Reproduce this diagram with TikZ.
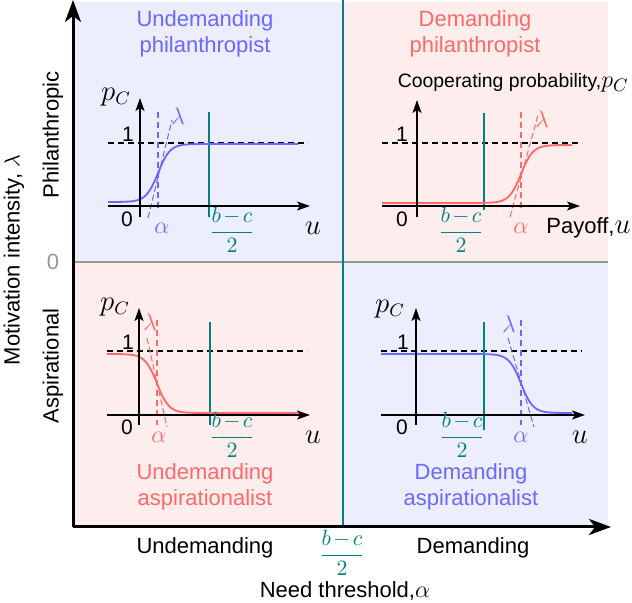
\documentclass[tikz,border=0pt]{standalone}
\usepackage[no-math]{fontspec}
\setmainfont{Liberation Sans}
\usepackage{amsmath}
\usetikzlibrary{arrows.meta}
\definecolor{bgblue}{RGB}{236,237,253}
\definecolor{bgpink}{RGB}{253,237,237}
\definecolor{cblue}{RGB}{105,105,255}
\definecolor{cpink}{RGB}{255,105,105}
\definecolor{tealc}{RGB}{0,128,128}
\definecolor{grayc}{RGB}{150,150,150}
\newcommand{\bcfrac}{$\medmuskip=2mu\dfrac{b-c}{2}$}
\tikzset{
  lbl/.style={font=\fontsize{11}{13}\selectfont, inner sep=0pt},
  tick/.style={font=\fontsize{10.5}{12}\selectfont, inner sep=0pt},
  mlbl/.style={font=\fontsize{12.5}{14}\selectfont, inner sep=0pt},
  plbl/.style={font=\fontsize{13.5}{15}\selectfont, inner sep=0pt},
  frc/.style={font=\fontsize{11}{13}\selectfont, inner sep=0pt, text=tealc},
  mainax/.style={line width=1.5pt, -{Stealth[length=11pt,width=8pt,inset=3pt]}},
  subax/.style={line width=0.85pt, -{Stealth[length=6.5pt,width=4.5pt,inset=1.5pt]}},
  onedash/.style={line width=0.6pt, dash pattern=on 3pt off 2pt},
  alphadash/.style={line width=0.6pt, dash pattern=on 3pt off 2pt},
  tanline/.style={line width=0.5pt, dash pattern=on 3pt off 1.5pt},
  curvel/.style={line width=0.9pt},
  tealsub/.style={tealc, line width=0.9pt},
}
\begin{document}
\begin{tikzpicture}[x=0.5pt,y=-0.5pt]
\useasboundingbox (0,0) rectangle (632,603);
% backgrounds
\fill[bgblue] (73,2) rectangle (343,262);
\fill[bgpink] (343,2) rectangle (608,262);
\fill[bgpink] (73,262) rectangle (343,527);
\fill[bgblue] (343,262) rectangle (608,527);
% separators
\coordinate (hl) at (73,262); \coordinate (hr) at (608,262);
\draw[grayc, line width=1.2pt] (hl) -- (hr);
\coordinate (vt) at (343,0); \coordinate (vb) at (343,527);
\draw[tealc, line width=1.1pt] (vt) -- (vb);
% main axes
\coordinate (O) at (73,527); \coordinate (Ytop) at (73,0); \coordinate (Xend) at (611,527);
\draw[mainax] (O) -- (Ytop);
\draw[mainax] (O) -- (Xend);
% left labels
\node[lbl, rotate=90] (mi) at (14,260) {Motivation intensity, $\lambda$};
\node[lbl, rotate=90] (phil) at (53,135) {Philanthropic};
\node[lbl, rotate=90] (asp) at (53,366) {Aspirational};
\node[lbl, text=grayc] (zero) at (53,262) {0};
% bottom labels
\node[lbl] (und) at (205,548) {Undemanding};
\node[frc] (bcm) at (342,553) {\bcfrac};
\node[lbl] (dem) at (473,548) {Demanding};
\node[lbl] (nt) at (345,591) {Need threshold,{\fontsize{12.5}{14}\selectfont$\alpha$}};

% ===== Top-left: undemanding philanthropist
\node[lbl, text=cblue, align=center] (t1) at (205,34) {Undemanding\\philanthropist};
\draw[black, onedash] (108,143) coordinate (a1) -- (308,143) coordinate (a2);
\draw[tealsub] (209,112) coordinate (a3) -- (209,217) coordinate (a4);
\draw[cblue, alphadash] (158,112) coordinate (a5) -- (158,208) coordinate (a6);
\draw[cblue, tanline] (148,218) coordinate (a7) -- (172,120) coordinate (a8);
\draw[cblue, curvel] plot[domain=108:298, samples=120] (\x,{202-58/(1+exp(-max(-9,min(9,(\x-158)/6))))});
\draw[subax] (108,206) coordinate (a9) -- (310,206) coordinate (a10);
\draw[subax] (140,217) coordinate (a11) -- (140,98) coordinate (a12);
\node[plbl] (pc1) at (116,97) {$p_C$};
\node[tick] (one1) at (128,134) {1};
\node[tick] (z1) at (127,219) {0};
\node[mlbl, text=cblue] (al1) at (162,228) {$\alpha$};
\node[mlbl, text=cblue] (la1) at (178,116) {$\lambda$};
\node[frc] (bc1) at (232,230) {\bcfrac};
\node[plbl] (u1) at (313,228) {$u$};

% ===== Top-right: demanding philanthropist
\node[lbl, text=cpink, align=center] (t2) at (475,34) {Demanding\\philanthropist};
\node[anchor=east, inner sep=0pt, font=\fontsize{9.7}{12}\selectfont] (cp) at (629,83) {Cooperating probability,{\fontsize{13}{14}\selectfont$p_C$}};
\draw[black, onedash] (382,143) coordinate (b1) -- (582,143) coordinate (b2);
\draw[tealsub] (484,113) coordinate (b3) -- (484,210) coordinate (b4);
\draw[cpink, alphadash] (521,112) coordinate (b5) -- (521,208) coordinate (b6);
\draw[cpink, tanline] (510,217) coordinate (b7) -- (538,115) coordinate (b8);
\draw[cpink, curvel] plot[domain=382:572, samples=120] (\x,{203-58/(1+exp(-max(-9,min(9,(\x-521)/6))))});
\draw[subax] (382,206) coordinate (b9) -- (580,206) coordinate (b10);
\draw[subax] (417,217) coordinate (b11) -- (417,100) coordinate (b12);
\node[tick] (one2) at (402,134) {1};
\node[tick] (z2) at (402,219) {0};
\node[mlbl, text=cpink] (al2) at (521,228) {$\alpha$};
\node[mlbl, text=cpink] (la2) at (542,119) {$\lambda$};
\node[frc] (bc2) at (461,230) {\bcfrac};
\node[lbl, anchor=east] (u2) at (631,228) {Payoff,{\fontsize{13.5}{14}\selectfont$u$}};

% ===== Bottom-left: undemanding aspirationalist
\node[lbl, text=cpink, align=center] (t3) at (205,487) {Undemanding\\aspirationalist};
\draw[black, onedash] (107,351) coordinate (c1) -- (307,351) coordinate (c2);
\draw[tealsub] (210,322) coordinate (c3) -- (210,425) coordinate (c4);
\draw[cpink, alphadash] (157,320) coordinate (c5) -- (157,425) coordinate (c6);
\draw[cpink, tanline] (147,338) coordinate (c7) -- (167,427) coordinate (c8);
\draw[cpink, curvel] plot[domain=107:298, samples=120] (\x,{354+59/(1+exp(-max(-9,min(9,(\x-157)/6))))});
\draw[subax] (107,415) coordinate (c9) -- (310,415) coordinate (c10);
\draw[subax] (139,425) coordinate (c11) -- (139,308) coordinate (c12);
\node[plbl] (pc3) at (115,307) {$p_C$};
\node[tick] (one3) at (128,342) {1};
\node[tick] (z3) at (127,427) {0};
\node[mlbl, text=cpink] (al3) at (159,437) {$\alpha$};
\node[mlbl, text=cpink] (la3) at (150,322) {$\lambda$};
\node[frc] (bc3) at (232,435) {\bcfrac};
\node[plbl] (u3) at (313,437) {$u$};

% ===== Bottom-right: demanding aspirationalist
\node[lbl, text=cblue, align=center] (t4) at (471,487) {Demanding\\aspirationalist};
\draw[black, onedash] (381,351) coordinate (d1) -- (582,351) coordinate (d2);
\draw[tealsub] (484,322) coordinate (d3) -- (484,430) coordinate (d4);
\draw[cblue, alphadash] (521,320) coordinate (d5) -- (521,425) coordinate (d6);
\draw[cblue, tanline] (508,338) coordinate (d7) -- (534,427) coordinate (d8);
\draw[cblue, curvel] plot[domain=381:572, samples=120] (\x,{354+59/(1+exp(-max(-9,min(9,(\x-521)/6))))});
\draw[subax] (381,415) coordinate (d9) -- (585,415) coordinate (d10);
\draw[subax] (416,425) coordinate (d11) -- (416,308) coordinate (d12);
\node[plbl] (pc4) at (390,309) {$p_C$};
\node[tick] (one4) at (403,342) {1};
\node[tick] (z4) at (402,427) {0};
\node[mlbl, text=cblue] (al4) at (521,437) {$\alpha$};
\node[mlbl, text=cblue] (la4) at (509,324) {$\lambda$};
\node[frc] (bc4) at (462,435) {\bcfrac};
\node[plbl] (u4) at (580,437) {$u$};
\end{tikzpicture}
\end{document}
